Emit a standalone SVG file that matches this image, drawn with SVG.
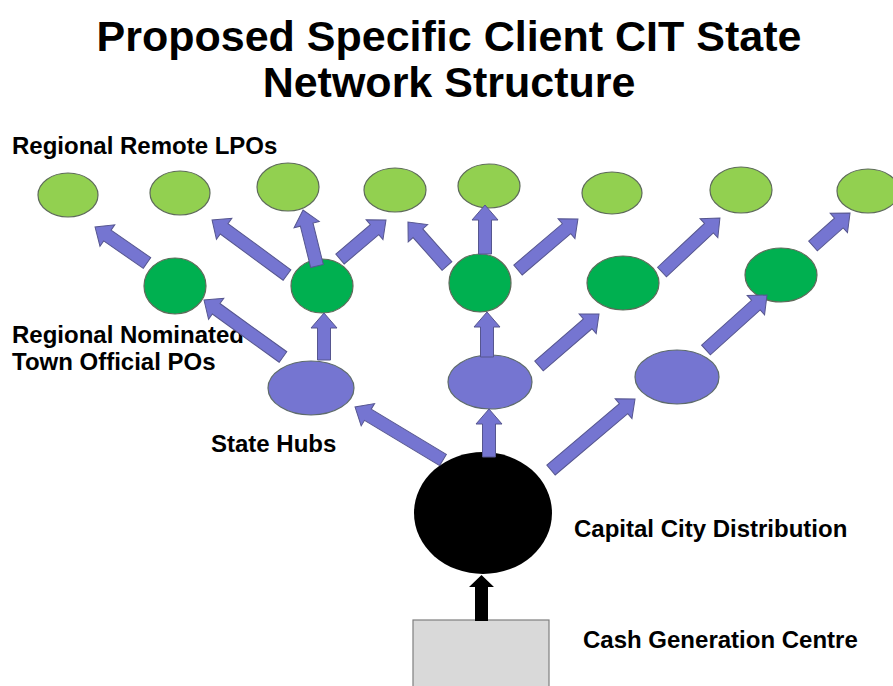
<svg xmlns="http://www.w3.org/2000/svg" width="893" height="686" viewBox="0 0 893 686">
  <style>
    .title { font-family: "Liberation Sans", Arial, sans-serif; font-weight: bold; font-size: 43px; fill: #000; text-anchor: middle; }
    .label { font-family: "Liberation Sans", Arial, sans-serif; font-weight: bold; font-size: 24px; fill: #000; }
    .lpo { fill: #92d050; stroke: #5e6b5a; stroke-width: 1.2; }
    .po { fill: #00b050; stroke: #5e6b5a; stroke-width: 1.2; }
    .hub { fill: #7575d1; stroke: #5e6b6b; stroke-width: 1.2; }
    .arrow { fill: #7575d1; stroke: #56568f; stroke-width: 1; }
  </style>

  <rect width="893" height="686" fill="#ffffff"/>

  <!-- Titles and labels -->
  <text class="title" x="449" y="51">Proposed Specific Client CIT State</text>
  <text class="title" x="449" y="97">Network Structure</text>
  <text class="label" x="12" y="154">Regional Remote LPOs</text>
  <text class="label" x="12" y="343">Regional Nominated</text>
  <text class="label" x="12" y="370">Town Official POs</text>
  <text class="label" x="211" y="452">State Hubs</text>
  <text class="label" x="574" y="537">Capital City Distribution</text>
  <text class="label" x="583" y="648">Cash Generation Centre</text>

  <!-- Cash generation centre -->
  <g id="cash-centre">
    <rect x="413" y="620" width="136" height="72" fill="#d9d9d9" stroke="#7f7f7f" stroke-width="1.2"/>
  </g>

  <!-- Capital city distribution -->
  <g id="capital-city">
    <ellipse cx="483" cy="513" rx="69" ry="61" fill="#000000"/>
  </g>

  <!-- State hubs -->
  <g id="hub-1"><ellipse class="hub" cx="311" cy="388" rx="43" ry="27"/></g>
  <g id="hub-2"><ellipse class="hub" cx="490" cy="382" rx="42" ry="27"/></g>
  <g id="hub-3"><ellipse class="hub" cx="677" cy="377" rx="42" ry="27"/></g>

  <!-- Regional nominated town official POs -->
  <g id="po-1"><ellipse class="po" cx="175" cy="286" rx="31" ry="28"/></g>
  <g id="po-2"><ellipse class="po" cx="322" cy="286" rx="31" ry="27"/></g>
  <g id="po-3"><ellipse class="po" cx="480" cy="283" rx="31" ry="29"/></g>
  <g id="po-4"><ellipse class="po" cx="623" cy="283" rx="36" ry="27"/></g>
  <g id="po-5"><ellipse class="po" cx="781" cy="275" rx="36" ry="27"/></g>

  <!-- Regional remote LPOs -->
  <g id="lpo-1"><ellipse class="lpo" cx="68" cy="195" rx="30" ry="22"/></g>
  <g id="lpo-2"><ellipse class="lpo" cx="180" cy="193" rx="30" ry="22"/></g>
  <g id="lpo-3"><ellipse class="lpo" cx="288" cy="187" rx="31" ry="24"/></g>
  <g id="lpo-4"><ellipse class="lpo" cx="395" cy="190" rx="31" ry="22"/></g>
  <g id="lpo-5"><ellipse class="lpo" cx="489" cy="186" rx="31" ry="22"/></g>
  <g id="lpo-6"><ellipse class="lpo" cx="612" cy="193" rx="30" ry="21"/></g>
  <g id="lpo-7"><ellipse class="lpo" cx="741" cy="190" rx="31" ry="23"/></g>
  <g id="lpo-8"><ellipse class="lpo" cx="868" cy="191" rx="31" ry="22"/></g>

  <!-- Block arrows: each drawn along +x from its tail, then rotated into place -->
  <g id="connectors">
    <!-- cash centre to capital city -->
    <path d="M475,621 V587 H469 L481.5,575 L494,587 H488 V621 Z" fill="#000000"/>

    <!-- capital city to hubs -->
    <path class="arrow" transform="translate(443,460) rotate(-148.94)" d="M0,-6.5 H87.7 V-13 L102.7,0 L87.7,13 V6.5 H0 Z"/>
    <path class="arrow" transform="translate(489,457) rotate(-90)" d="M0,-6.5 H33 V-13 L48,0 L33,13 V6.5 H0 Z"/>
    <path class="arrow" transform="translate(551,470) rotate(-40.2)" d="M0,-6.5 H95 V-13 L110,0 L95,13 V6.5 H0 Z"/>

    <!-- hubs to POs -->
    <path class="arrow" transform="translate(283,357) rotate(-144.2)" d="M0,-6.5 H82.4 V-13 L97.4,0 L82.4,13 V6.5 H0 Z"/>
    <path class="arrow" transform="translate(324,360) rotate(-90)" d="M0,-6.5 H32 V-13 L47,0 L32,13 V6.5 H0 Z"/>
    <path class="arrow" transform="translate(487,357) rotate(-90)" d="M0,-6.5 H30 V-13 L45,0 L30,13 V6.5 H0 Z"/>
    <path class="arrow" transform="translate(539,366) rotate(-40.9)" d="M0,-6.5 H64.4 V-13 L79.4,0 L64.4,13 V6.5 H0 Z"/>
    <path class="arrow" transform="translate(706,350) rotate(-42)" d="M0,-6.5 H67.1 V-13 L82.1,0 L67.1,13 V6.5 H0 Z"/>

    <!-- POs to LPOs -->
    <path class="arrow" transform="translate(147,263) rotate(-145.3)" d="M0,-6.5 H48.2 V-13 L63.2,0 L48.2,13 V6.5 H0 Z"/>
    <path class="arrow" transform="translate(287,275) rotate(-143.7)" d="M0,-6.5 H78 V-13 L93,0 L78,13 V6.5 H0 Z"/>
    <path class="arrow" transform="translate(317,266) rotate(-104)" d="M0,-6.5 H42.7 V-13 L57.7,0 L42.7,13 V6.5 H0 Z"/>
    <path class="arrow" transform="translate(340,259) rotate(-40.3)" d="M0,-6.5 H45.3 V-13 L60.3,0 L45.3,13 V6.5 H0 Z"/>
    <path class="arrow" transform="translate(447,266) rotate(-131.6)" d="M0,-6.5 H43.8 V-13 L58.8,0 L43.8,13 V6.5 H0 Z"/>
    <path class="arrow" transform="translate(485,254) rotate(-90)" d="M0,-6.5 H34 V-13 L49,0 L34,13 V6.5 H0 Z"/>
    <path class="arrow" transform="translate(518,270) rotate(-40.4)" d="M0,-6.5 H63.7 V-13 L78.7,0 L63.7,13 V6.5 H0 Z"/>
    <path class="arrow" transform="translate(662,272) rotate(-43)" d="M0,-6.5 H64.2 V-13 L79.2,0 L64.2,13 V6.5 H0 Z"/>
    <path class="arrow" transform="translate(813,246) rotate(-41.7)" d="M0,-6.5 H34.6 V-13 L49.6,0 L34.6,13 V6.5 H0 Z"/>
  </g>
</svg>
